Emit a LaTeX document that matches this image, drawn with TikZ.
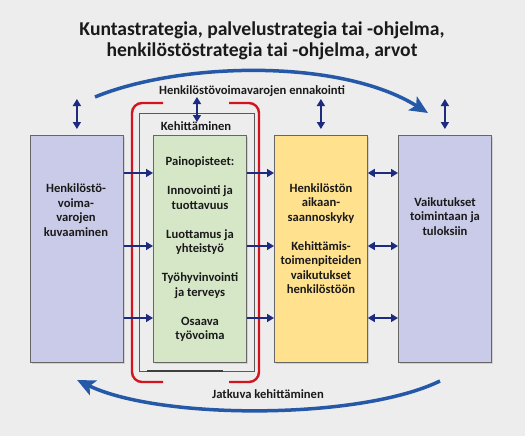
\documentclass[tikz,border=0pt]{standalone}
\usepackage{fontspec}
\setmainfont{Carlito}
\usetikzlibrary{arrows.meta,
                positioning,
                shadows}
\definecolor{bgray}{HTML}{EDEDED}
\definecolor{lav}{HTML}{C9CBE8}
\definecolor{lgreen}{HTML}{D6E7C8}
\definecolor{lyellow}{HTML}{FFE18E}
\definecolor{navy}{HTML}{1C2A80}
\definecolor{arcblue}{HTML}{2559A8}
\definecolor{bred}{HTML}{D2141E}
\definecolor{txt}{HTML}{1A1A1A}

\begin{document}
\begin{tikzpicture}[x=1pt, y=-1pt,
   BOX/.style = {draw=black!60, line width=0.8pt, anchor=north west,
                 minimum width=93pt, minimum height=227pt, inner sep=0pt,
                 drop shadow={shadow xshift=2pt, shadow yshift=-2pt,
                              opacity=0.12, fill=black}},
    CL/.style = {fill=lav},     %fill  Color Lavender
    CG/.style = {fill=lgreen},  %fill  Color Green
    CY/.style = {fill=lyellow}, %fill  Color Yellow
   TXT/.style = {font=\fontsize{12.6}{14.5}\selectfont\bfseries,
                 text=txt, align=center, inner sep=0pt},
    SA/.style = {navy, line width=1.6pt, -{Triangle[length=7pt,width=8pt]}},
    DA/.style = {navy, line width=1.6pt,
                 {Triangle[length=7pt,width=8pt]}-{Triangle[length=7pt,width=8pt]}},
    BA/.style = {arcblue, line width=3.5pt,
                 -{Stealth[length=18pt,width=16pt,inset=4pt]}},
   BRK/.style = {bred, line width=2.4pt, rounded corners=10pt}
                        ]
\path[use as bounding box, fill=bgray] (0,0) rectangle (525,436);
% title
\node (title) [font=\fontsize{19.6}{20.5}\selectfont\bfseries, text=txt,
               align=center, inner sep=0pt] at (262,41)
      {Kuntastrategia, palvelustrategia tai -ohjelma,\\
       henkilöstöstrategia tai -ohjelma, arvot};
% frame round the green box
\node (grect) [draw=black!65, line width=0.9pt, anchor=north west,
               minimum width=115pt, minimum height=258pt] at (139,113) {};
\draw[black!75, line width=2pt] (147,371) -- (223,371);
\draw[BRK] (163,103) -- (132,103) -- (132,382) -- (163,382);
\draw[BRK] (229,103) -- (259,103) -- (259,382) -- (229,382);
% boxes
\node (lbox) [BOX, CL] at (30,135)  {};
\node (gbox) [BOX, CG] at (153,135) {};
\node (ybox) [BOX, CY] at (274,135) {};
\node (rbox) [BOX, CL] at (398,135) {};
% texts
\node (ltxt) [TXT] at (76,210)
      {Henkilöstö-\\voima-\\varojen\\kuvaaminen};
\node (gtxt) [TXT] at (200,249.5)
      {Painopisteet:\\[14.5pt]
       Innovointi ja\\tuottavuus\\[14.5pt]
       Luottamus ja\\yhteistyö\\[14.5pt]
       Työhyvinvointi\\ja terveys\\[14.5pt]
       Osaava\\työvoima};
\node (ytxt) [TXT] at (321,238.5)
      {Henkilöstön\\aikaan-\\saannoskyky\\[14.5pt]
       Kehittämis-\\toimenpiteiden\\vaikutukset\\henkilöstöön};
\node (rtxt) [TXT] at (445,216.5)
      {Vaikutukset\\toimintaan ja\\tuloksiin};
\node (ktxt) [TXT] at (196,126) {Kehittäminen};
\node (atxt) [TXT] at (252,91)  {Henkilöstövoimavarojen ennakointi};
\node (jtxt) [TXT] at (268,394) {Jatkuva kehittäminen};
% arrows between the boxes
\coordinate (r1) at (0,173);
\coordinate (r2) at (0,246);
\coordinate (r3) at (0,318);
\foreach \r in {r1,r2,r3}
{
\draw[SA] (lbox.east |- \r) -- (gbox.west |- \r);
\draw[SA] (gbox.east |- \r) -- (ybox.west |- \r);
\draw[DA] (ybox.east |- \r) -- (rbox.west |- \r);
}
% arrows from the top
\foreach \b in {lbox,ybox,rbox}
    \draw[DA] ([yshift=6pt]\b.north) -- ++ (0,-30);
\draw[DA] ([yshift=-9pt]grect.north) -- ++ (0,-25);
% big arcs
\coordinate (a1) at (95,97);
\coordinate (a2) at (428,113);
\coordinate (b1) at (440,381);
\coordinate (b2) at (77,380);
\draw[BA] (a1) .. controls (180,62) and (340,58) .. (a2);
\draw[BA] (b1) .. controls (360,420) and (160,420) .. (b2);
\end{tikzpicture}
\end{document}
